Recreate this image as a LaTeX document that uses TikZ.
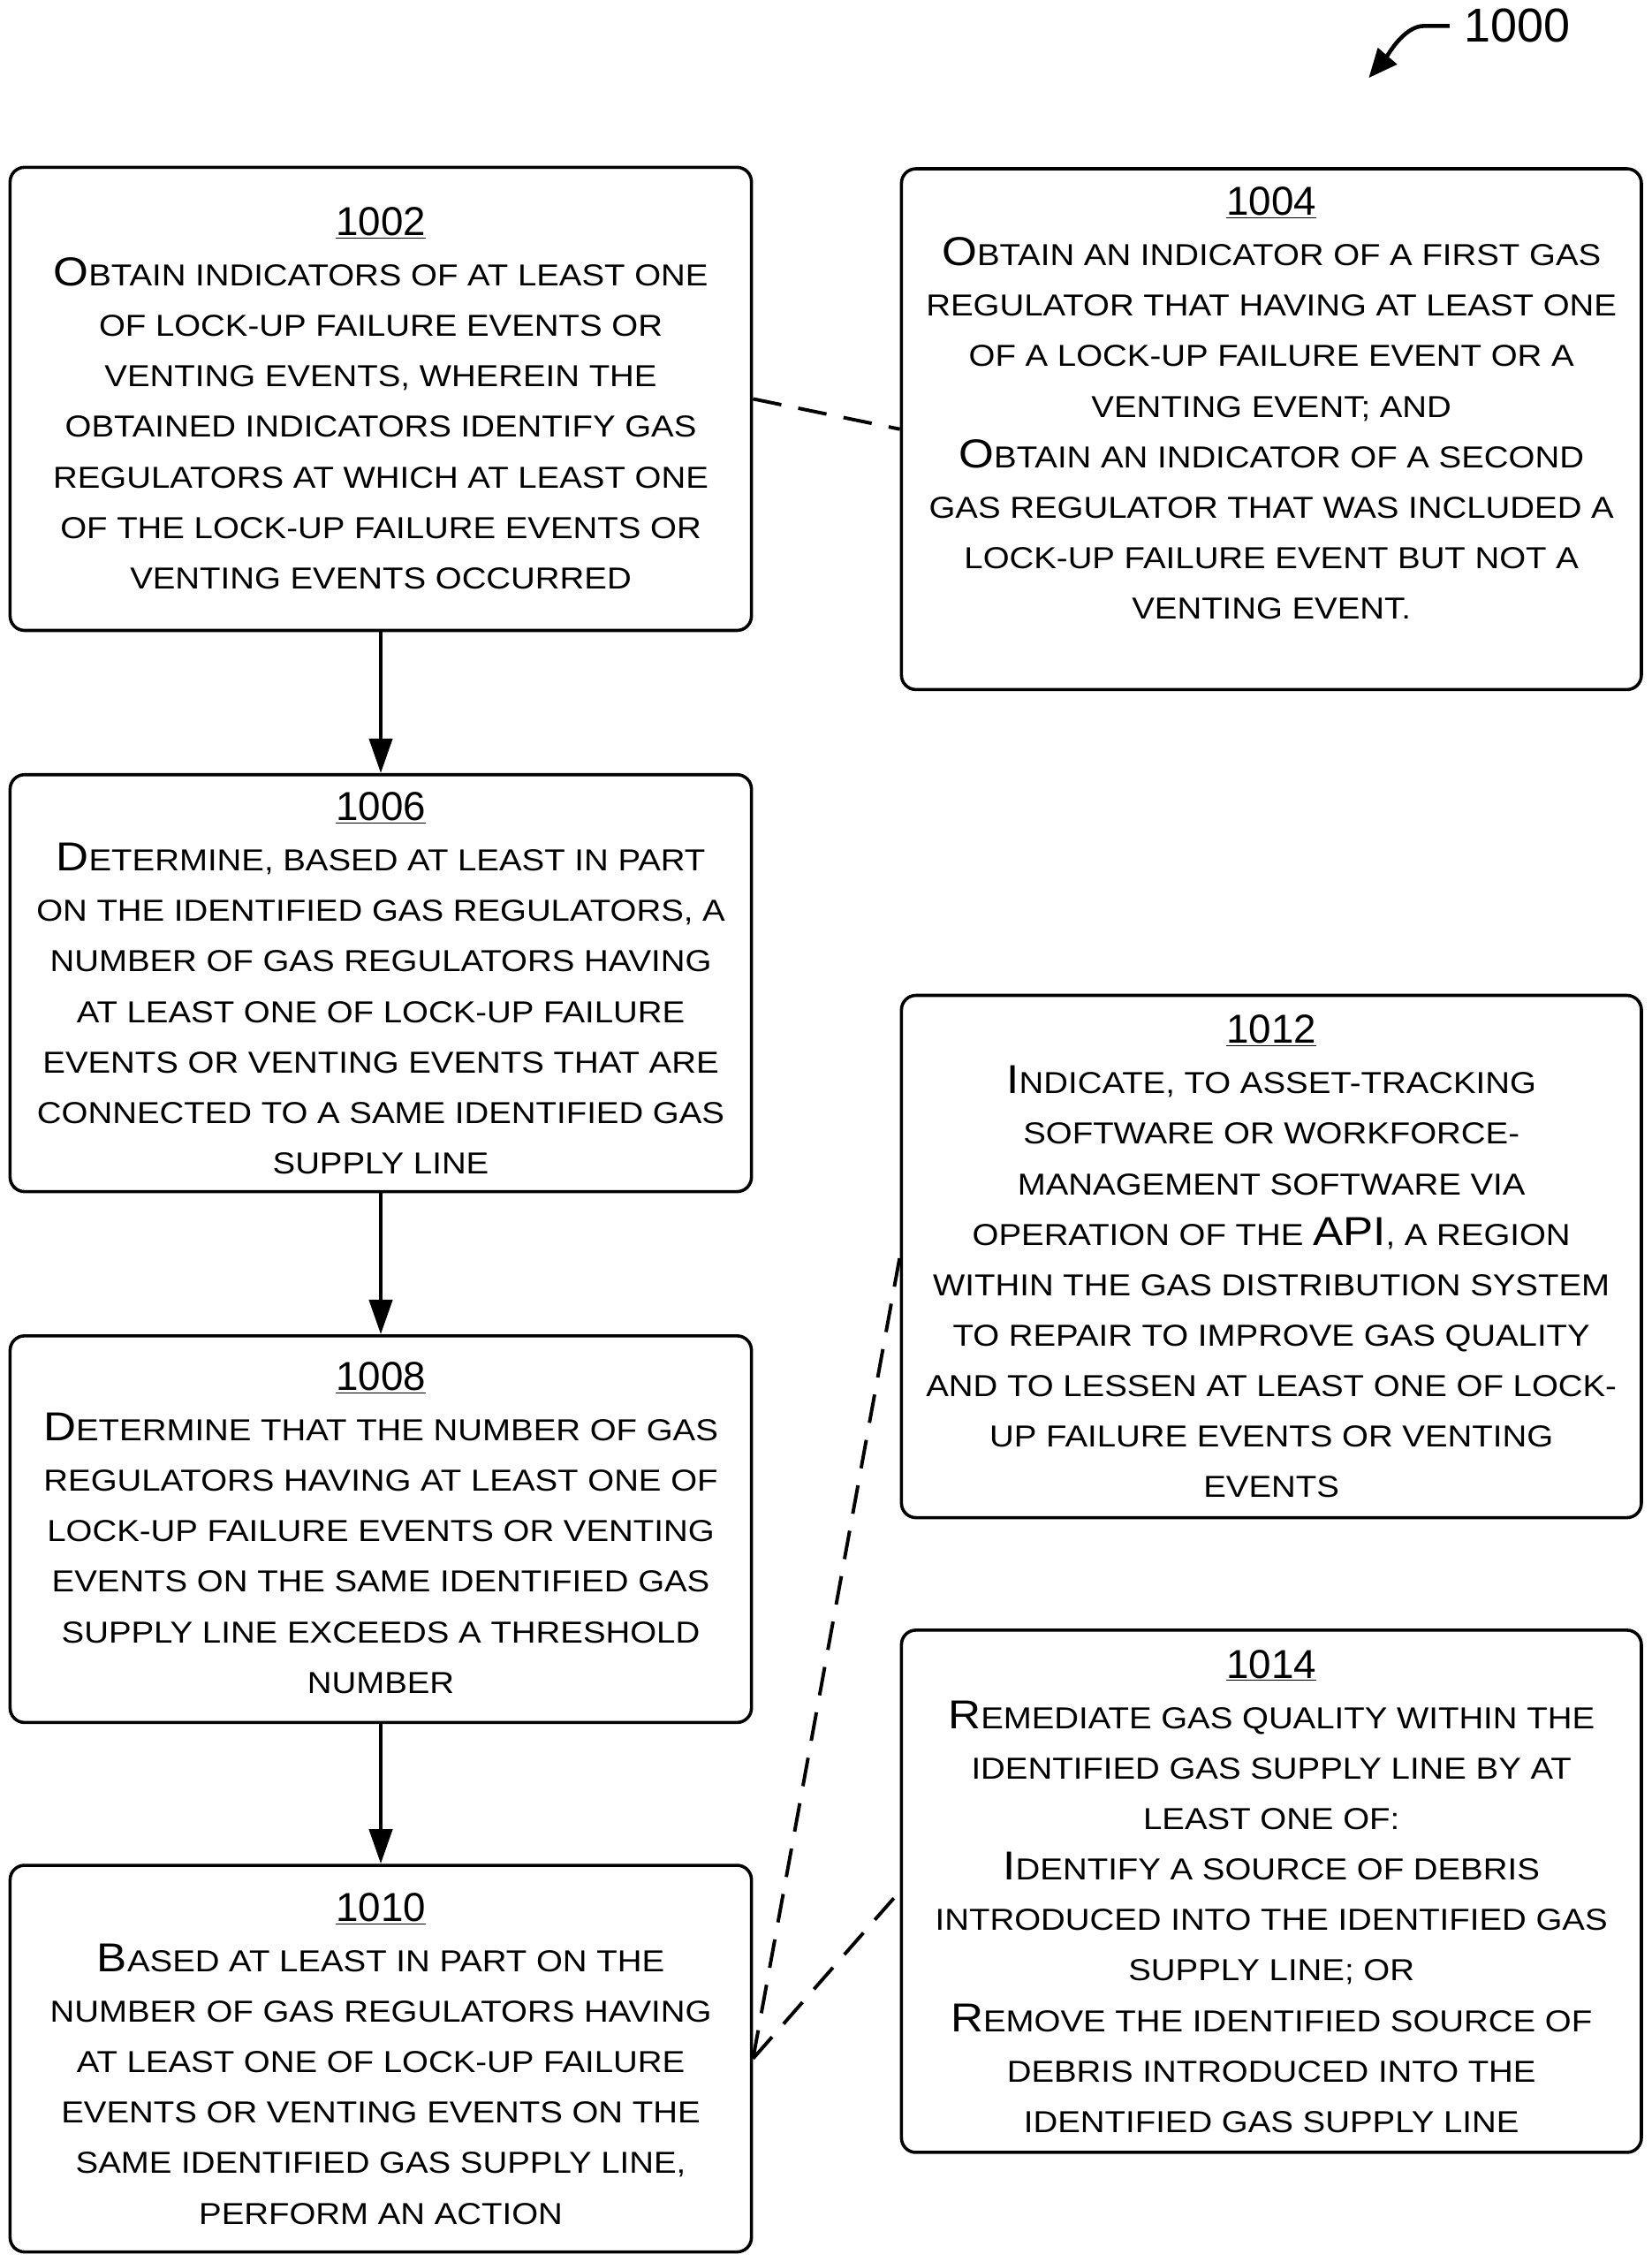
\documentclass[tikz,border=0pt]{standalone}
\usepackage{fontspec}
\setmainfont{Liberation Sans}
\newfontfamily\boxfont{Liberation Sans}[FakeStretch=1.12]
\usetikzlibrary{arrows.meta}
\newcommand\Cap[1]{{\fontsize{28}{35}\selectfont #1}}
\newcommand\Num[1]{{\rmfamily\fontsize{28}{35}\selectfont\underline{#1}}}
\begin{document}
\begin{tikzpicture}[x=1pt,y=-1pt,
  box/.style={draw, line width=2.2pt, rounded corners=10pt, inner sep=0pt, minimum width=514pt},
  txt/.style={align=center, inner sep=0pt, font=\boxfont\fontsize{21}{35}\selectfont},
  arr/.style={line width=2.6pt, -{Triangle[length=24pt,width=16pt]}},
  dline/.style={line width=2.4pt, dash pattern=on 20pt off 12pt}]
\useasboundingbox (0,0) rectangle (1145,1568);
\fill[white] (0,0) rectangle (1145,1568);

% boxes
\node[box, minimum height=321pt] (b1002) at (264,276.5) {};
\node[box, minimum width=513pt, minimum height=361pt] (b1004) at (881.5,297.5) {};
\node[box, minimum height=289pt] (b1006) at (264,681.5) {};
\node[box, minimum height=268pt] (b1008) at (264,1060) {};
\node[box, minimum height=268pt] (b1010) at (264,1427) {};
\node[box, minimum width=513pt, minimum height=362pt] (b1012) at (881.5,871) {};
\node[box, minimum width=513pt, minimum height=362pt] (b1014) at (881.5,1311) {};

% texts
\node[txt] (t1002) at (264,276) {\Num{1002}\\
\Cap{O}BTAIN INDICATORS OF AT LEAST ONE\\
OF LOCK-UP FAILURE EVENTS OR\\
VENTING EVENTS, WHEREIN THE\\
OBTAINED INDICATORS IDENTIFY GAS\\
REGULATORS AT WHICH AT LEAST ONE\\
OF THE LOCK-UP FAILURE EVENTS OR\\
VENTING EVENTS OCCURRED};

\node[txt] (t1004) at (881.5,279.5) {\Num{1004}\\
\Cap{O}BTAIN AN INDICATOR OF A FIRST GAS\\
REGULATOR THAT HAVING AT LEAST ONE\\
OF A LOCK-UP FAILURE EVENT OR A\\
VENTING EVENT; AND\\
\Cap{O}BTAIN AN INDICATOR OF A SECOND\\
GAS REGULATOR THAT WAS INCLUDED A\\
LOCK-UP FAILURE EVENT BUT NOT A\\
VENTING EVENT.};

\node[txt] (t1006) at (264,681.5) {\Num{1006}\\
\Cap{D}ETERMINE, BASED AT LEAST IN PART\\
ON THE IDENTIFIED GAS REGULATORS, A\\
NUMBER OF GAS REGULATORS HAVING\\
AT LEAST ONE OF LOCK-UP FAILURE\\
EVENTS OR VENTING EVENTS THAT ARE\\
CONNECTED TO A SAME IDENTIFIED GAS\\
SUPPLY LINE};

\node[txt] (t1008) at (264,1059) {\Num{1008}\\
\Cap{D}ETERMINE THAT THE NUMBER OF GAS\\
REGULATORS HAVING AT LEAST ONE OF\\
LOCK-UP FAILURE EVENTS OR VENTING\\
EVENTS ON THE SAME IDENTIFIED GAS\\
SUPPLY LINE EXCEEDS A THRESHOLD\\
NUMBER};

\node[txt] (t1010) at (264,1427) {\Num{1010}\\
\Cap{B}ASED AT LEAST IN PART ON THE\\
NUMBER OF GAS REGULATORS HAVING\\
AT LEAST ONE OF LOCK-UP FAILURE\\
EVENTS OR VENTING EVENTS ON THE\\
SAME IDENTIFIED GAS SUPPLY LINE,\\
PERFORM AN ACTION};

\node[txt] (t1012) at (881.5,871) {\Num{1012}\\
\Cap{I}NDICATE, TO ASSET-TRACKING\\
SOFTWARE OR WORKFORCE-\\
MANAGEMENT SOFTWARE VIA\\
OPERATION OF THE \Cap{API}, A REGION\\
WITHIN THE GAS DISTRIBUTION SYSTEM\\
TO REPAIR TO IMPROVE GAS QUALITY\\
AND TO LESSEN AT LEAST ONE OF LOCK-\\
UP FAILURE EVENTS OR VENTING\\
EVENTS};

\node[txt] (t1014) at (881.5,1311) {\Num{1014}\\
\Cap{R}EMEDIATE GAS QUALITY WITHIN THE\\
IDENTIFIED GAS SUPPLY LINE BY AT\\
LEAST ONE OF:\\
\Cap{I}DENTIFY A SOURCE OF DEBRIS\\
INTRODUCED INTO THE IDENTIFIED GAS\\
SUPPLY LINE; OR\\
\Cap{R}EMOVE THE IDENTIFIED SOURCE OF\\
DEBRIS INTRODUCED INTO THE\\
IDENTIFIED GAS SUPPLY LINE};

% solid arrows
\draw[arr] (b1002) -- (b1006);
\draw[arr] (b1006) -- (b1008);
\draw[arr] (b1008) -- (b1010);

% dashed connectors
\draw[dline] (b1002.east) -- (b1004.west);
\draw[dline] (b1010.east) -- (b1012.west);
\draw[dline] (b1010.east) -- (b1014.west);

% figure label
\node[inner sep=0pt, font=\fontsize{33}{40}\selectfont] (n1000) at (1052,18) {1000};
\coordinate (tip) at (949,54);
\draw[line width=2.8pt, -{Triangle[length=20pt,width=17pt]}] ([xshift=-10pt]n1000.west) -- ++(-18,0) .. controls +(-14,0) and +(12,-14) .. (tip);
\end{tikzpicture}
\end{document}
